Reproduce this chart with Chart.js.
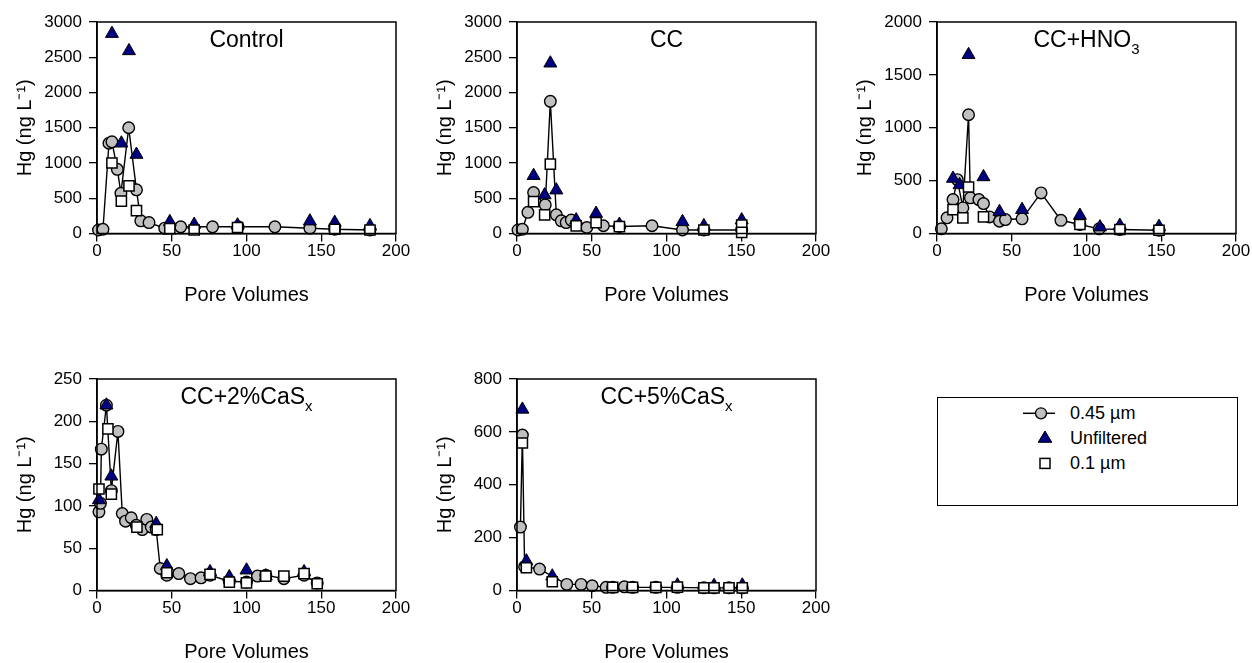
<!DOCTYPE html>
<html>
<head>
<meta charset="utf-8">
<script src="https://cdn.jsdelivr.net/npm/chart.js@4.4.1/dist/chart.umd.min.js"></script>
<style>
  html, body { margin: 0; padding: 0; background: #fff; }
  body { width: 1252px; height: 663px; position: relative; overflow: hidden; font-family: "Liberation Sans", Arial, sans-serif; }
  canvas { position: absolute; }
  .ptitle { position: absolute; transform: translate(-50%, -50%); font-size: 23px; line-height: 23px; white-space: nowrap; color: #000; }
  .ptitle .sb { font-size: 15px; line-height: 0; position: relative; top: 7px; }
  .ltext { position: absolute; font-size: 18px; line-height: 20px; color: #000; white-space: nowrap; }
</style>
</head>
<body>
<canvas id="c1" width="420" height="330" style="left:0px;top:0px"></canvas>
<canvas id="c2" width="420" height="330" style="left:420px;top:0px"></canvas>
<canvas id="c3" width="420" height="330" style="left:840px;top:0px"></canvas>
<canvas id="c4" width="420" height="330" style="left:0px;top:357px"></canvas>
<canvas id="c5" width="420" height="330" style="left:420px;top:357px"></canvas>

<div class="ptitle" style="left:246.5px;top:39px">Control</div>
<div class="ptitle" style="left:666.5px;top:39px">CC</div>
<div class="ptitle" style="left:1086.5px;top:39px">CC+HNO<span class="sb">3</span></div>
<div class="ptitle" style="left:246.5px;top:396px">CC+2%CaS<span class="sb">x</span></div>
<div class="ptitle" style="left:666.5px;top:396px">CC+5%CaS<span class="sb">x</span></div>

<div style="position:absolute;left:937px;top:397px;width:301px;height:109px;border:1.5px solid #000;box-sizing:border-box;"></div>
<svg style="position:absolute;left:1015px;top:400px" width="50" height="75">
  <line x1="8" y1="13.3" x2="40" y2="13.3" stroke="#000" stroke-width="1.5"/>
  <circle cx="26" cy="13.3" r="5.5" fill="#c0c0c0" stroke="#000" stroke-width="1.3"/>
  <polygon points="30,31 36.8,42.3 23.2,42.3" fill="#000080" stroke="#000" stroke-width="1"/>
  <rect x="25" y="58.4" width="10" height="10" fill="#fff" stroke="#000" stroke-width="1.5"/>
</svg>
<div class="ltext" style="left:1070px;top:403px">0.45 µm</div>
<div class="ltext" style="left:1070px;top:428px">Unfiltered</div>
<div class="ltext" style="left:1070px;top:453px">0.1 µm</div>

<script>
// ---------------- DATA ----------------
const xTicks = [0, 50, 100, 150, 200];
const yTicksControl = [0, 500, 1000, 1500, 2000, 2500, 3000];
const yTicksCC = [0, 500, 1000, 1500, 2000, 2500, 3000];
const yTicksHNO3 = [0, 500, 1000, 1500, 2000];
const yTicksCaS2 = [0, 50, 100, 150, 200, 250];
const yTicksCaS5 = [0, 200, 400, 600, 800];

// Control
const controlX045 = [1, 4, 8, 10, 13.6, 16, 21.2, 26.4, 29.3, 34.8, 45.3, 56, 77.3, 94.4, 119, 142.4, 159, 182.6];
const controlY045 = [50, 60, 1280, 1300, 910, 570, 1500, 620, 180, 155, 75, 95, 95, 95, 95, 75, 60, 50];
const controlXUnf = [10, 16.3, 21.4, 26.4, 48.7, 65, 94, 142.4, 159, 182.6];
const controlYUnf = [2835, 1280, 2590, 1120, 165, 127, 118, 175, 155, 108];
const controlX01 = [10, 16.3, 21.4, 26.4, 48.7, 65, 94, 159, 182.6];
const controlY01 = [1000, 460, 675, 325, 70, 50, 85, 60, 50];

// CC
const ccX045 = [0.7, 3.6, 7.3, 11.1, 18.9, 22.3, 26.3, 29.6, 32.9, 36.3, 46.7, 57.8, 68.5, 90.3, 110.7, 125, 150.3];
const ccY045 = [50, 60, 300, 580, 405, 1875, 265, 180, 155, 190, 85, 110, 100, 110, 50, 50, 50];
const ccXUnf = [11.1, 18.5, 22.3, 26.3, 39.6, 52.9, 68.5, 110.7, 125, 150.3];
const ccYUnf = [820, 545, 2415, 615, 190, 283, 127, 165, 108, 190];
const ccX01 = [11.1, 18.5, 22.3, 39.6, 52.9, 68.5, 125, 150.3, 150.3];
const ccY01 = [452, 263, 984, 107, 154, 97, 50, 121, 15];

// CC+HNO3
const hno3X045 = [2.9, 6.7, 10.7, 13.6, 17.3, 21.1, 22.3, 28, 31.1, 35.1, 41.8, 45.8, 56.9, 69.6, 82.9, 95.6, 108.5, 122.3, 148.5];
const hno3Y045 = [44, 148, 321, 509, 242, 1123, 337, 321, 283, 157, 116, 132, 139, 384, 125, 85, 44, 38, 31];
const hno3XUnf = [10.7, 15.1, 21.1, 31.1, 41.8, 56.9, 95.6, 109, 122.3, 148.5];
const hno3YUnf = [520, 460, 1690, 535, 205, 225, 170, 60, 75, 65];
const hno3X01 = [10.7, 17.3, 21.1, 31.1, 95.6, 122.3, 148.5];
const hno3Y01 = [226, 148, 440, 157, 85, 38, 31];

// CC+2%CaSx
const cas2X045 = [1.3, 2.3, 2.9, 6.3, 9.6, 14, 16.9, 19.1, 22.9, 26.3, 30.3, 33.3, 36.3, 39.6, 42.3, 46.7, 54.7, 62.5, 69.6, 75.6, 88.5, 100, 107.3, 112.9, 125, 138.5, 147.3];
const cas2Y045 = [93, 103, 167, 219, 118, 188, 91, 82, 86, 77, 72, 84, 75, 72, 26, 18, 20, 14, 15, 18, 11, 10, 17, 18, 14, 18, 9];
const cas2XUnf = [1.3, 6.3, 9.6, 39.6, 46.7, 75.6, 88.5, 100, 112.9, 138.5];
const cas2YUnf = [107, 219, 135, 79, 29, 22, 16, 24, 17, 22];
const cas2X01 = [1.3, 7.3, 9.6, 26.7, 40.3, 46.7, 75.6, 88.5, 100, 112.9, 125, 138.5, 147.3];
const cas2Y01 = [120, 191, 114, 75, 72, 21, 19, 10, 9, 17, 17, 20, 8];

// CC+5%CaSx
const cas5X045 = [2.3, 3.6, 5.1, 15.1, 33.3, 42.9, 50.3, 59.6, 64, 71.8, 77.3, 92.9, 107.3, 125, 131.8, 141.8, 150.7];
const cas5Y045 = [240, 588, 90, 81, 23, 23, 18, 12, 12, 14, 12, 12, 12, 10, 10, 10, 10];
const cas5XUnf = [3.6, 6.3, 23.6, 107.3, 131.8, 150.7];
const cas5YUnf = [685, 111, 54, 20, 18, 20];
const cas5X01 = [3.6, 6.3, 23.6, 64, 77.3, 92.9, 107.3, 125, 131.8, 141.8, 150.7];
const cas5Y01 = [558, 86, 33, 12, 12, 12, 13, 10, 10, 10, 10];

// ---------------- CHARTS ----------------
const FONT = '"Liberation Sans", Arial, sans-serif';
Chart.defaults.font.family = FONT;
Chart.defaults.color = '#000';

const zip = (xs, ys) => xs.map((x, i) => ({ x: x, y: ys[i] }));

const boxPlugin = {
  id: 'box',
  afterDraw(chart) {
    const { ctx, chartArea: a } = chart;
    ctx.save();
    ctx.strokeStyle = '#000';
    ctx.lineWidth = 1.5;
    ctx.strokeRect(a.left, a.top, a.right - a.left, a.bottom - a.top);
    ctx.restore();
  }
};

function makeChart(id, yTicks, x045, y045, xUnf, yUnf, x01, y01) {
  const yMax = yTicks[yTicks.length - 1];
  return new Chart(document.getElementById(id), {
    type: 'scatter',
    data: {
      datasets: [
        { label: '0.1 µm', data: zip(x01, y01), pointStyle: 'rect', pointRadius: 7.2,
          backgroundColor: '#ffffff', borderColor: '#000', borderWidth: 1.5, showLine: false, order: 0, clip: false },
        { label: 'Unfiltered', data: zip(xUnf, yUnf), pointStyle: 'triangle', pointRadius: 7.5,
          backgroundColor: '#000080', borderColor: '#000', borderWidth: 1, showLine: false, order: 1, clip: false },
        { label: '0.45 µm', data: zip(x045, y045), pointStyle: 'circle', pointRadius: 5.8,
          backgroundColor: '#c0c0c0', borderColor: '#000', borderWidth: 1.4, showLine: true, tension: 0, order: 2, clip: false }
      ]
    },
    options: {
      responsive: false, animation: false, devicePixelRatio: 1,
      layout: { padding: { top: 22, right: 24, bottom: 20.5, left: 0 } },
      plugins: { legend: { display: false }, tooltip: { enabled: false } },
      scales: {
        x: {
          type: 'linear', min: 0, max: 200,
          afterBuildTicks: s => { s.ticks = xTicks.map(v => ({ value: v })); },
          afterFit: s => { s.height = 76; },
          grid: { drawOnChartArea: false, drawTicks: true, tickLength: 8, color: '#000', lineWidth: 1.3 },
          border: { display: true, color: '#000', width: 1.5 },
          ticks: { color: '#000', font: { size: 17 }, padding: 0, maxRotation: 0, callback: v => String(v) },
          title: { display: true, text: 'Pore Volumes', color: '#000', font: { size: 20 }, padding: { top: 0, bottom: 2 } }
        },
        y: {
          type: 'linear', min: 0, max: yMax,
          afterBuildTicks: s => { s.ticks = yTicks.map(v => ({ value: v })); },
          afterFit: s => { s.width = 97; },
          grid: { drawOnChartArea: false, drawTicks: true, tickLength: 8, color: '#000', lineWidth: 1.3 },
          border: { display: true, color: '#000', width: 1.5 },
          ticks: { color: '#000', font: { size: 17 }, padding: 7, callback: v => String(v) },
          title: { display: true, text: 'Hg (ng L⁻¹)', color: '#000', font: { size: 20 }, padding: { top: 13, bottom: 0 } }
        }
      }
    },
    plugins: [boxPlugin]
  });
}

makeChart('c1', yTicksControl, controlX045, controlY045, controlXUnf, controlYUnf, controlX01, controlY01);
makeChart('c2', yTicksCC, ccX045, ccY045, ccXUnf, ccYUnf, ccX01, ccY01);
makeChart('c3', yTicksHNO3, hno3X045, hno3Y045, hno3XUnf, hno3YUnf, hno3X01, hno3Y01);
makeChart('c4', yTicksCaS2, cas2X045, cas2Y045, cas2XUnf, cas2YUnf, cas2X01, cas2Y01);
makeChart('c5', yTicksCaS5, cas5X045, cas5Y045, cas5XUnf, cas5YUnf, cas5X01, cas5Y01);
</script>
</body>
</html>
